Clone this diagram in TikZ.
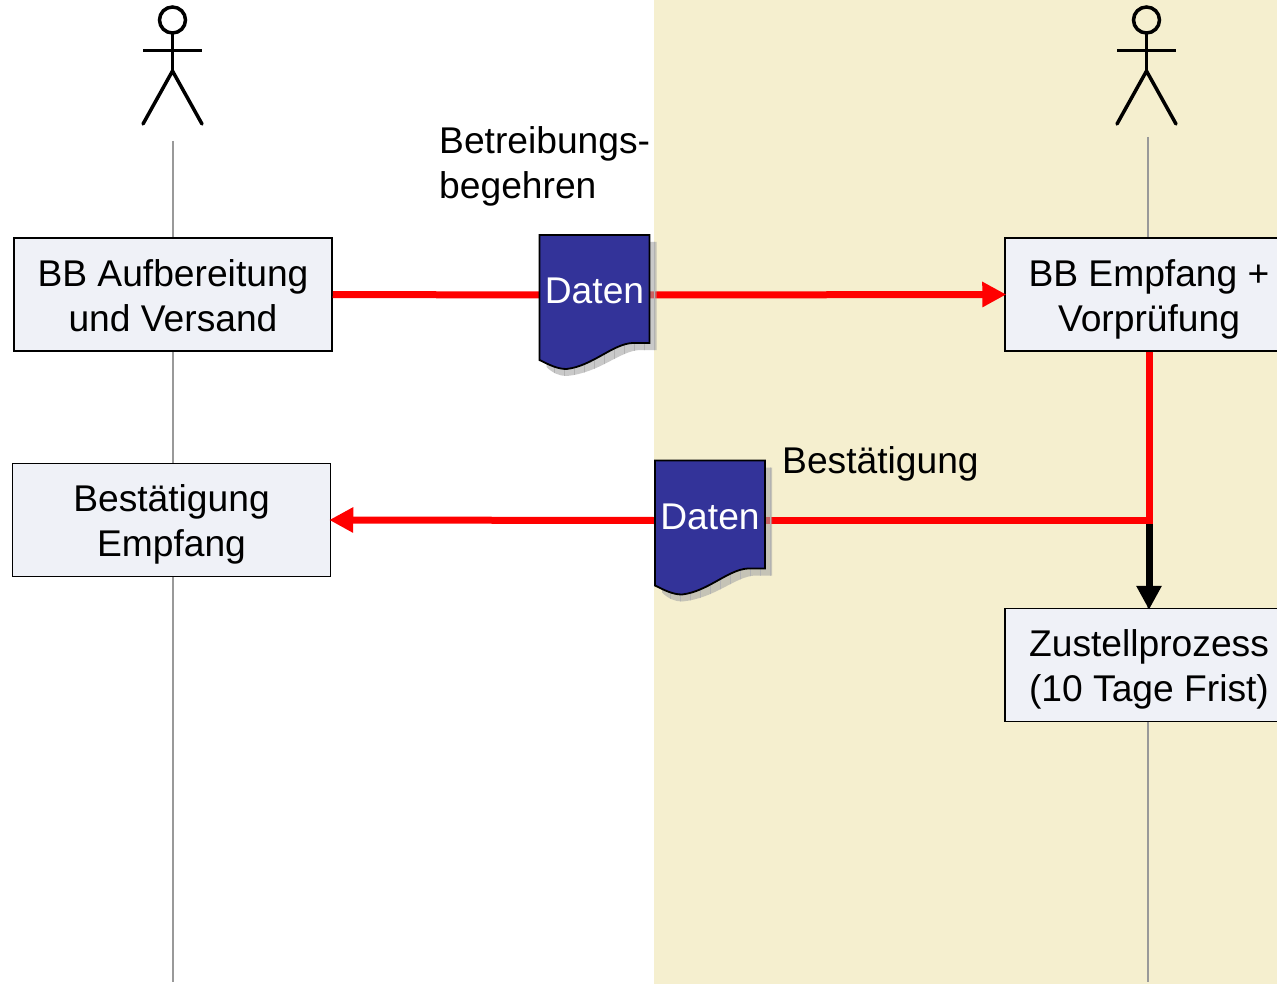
\documentclass[tikz,border=0pt]{standalone}
\usepackage{fontspec}
\setmainfont{Liberation Sans}
\usetikzlibrary{arrows.meta,calc}

\definecolor{zone}{HTML}{F5EFCF}
\definecolor{boxfill}{HTML}{EFF1F7}
\definecolor{docblue}{HTML}{333399}
\definecolor{flowred}{rgb}{1,0,0}

\pgfdeclarelayer{back}
\pgfdeclarelayer{front}
\pgfsetlayers{back,main,front}

\tikzset{
    labeltext/.style={font=\fontsize{37.2}{45}\selectfont},
    stepbox/.style={draw=black, line width=1.5pt, fill=boxfill, minimum height=113pt, align=center, inner sep=0pt, text height=73pt, text depth=0pt, labeltext},
    docnode/.style={minimum width=110pt, minimum height=120pt, inner sep=0pt, text=white, text depth=8pt, labeltext},
    lifeline/.style={draw=gray!80, line width=2pt},
    redflow/.style={flowred, line width=7pt},
    blackflow/.style={black, line width=7pt},
    head/.style={-{Triangle[length=24pt,width=24pt]}, shorten >=-2pt},
    actor/.pic={
        \draw[line width=3.5pt, line cap=round] (0,-13) circle (13);
        \draw[line width=3.5pt] (0,0) -- (0,38);
        \draw[line width=3.5pt] (-29.5,17.5) -- (29.5,17.5);
        \draw[line width=3.5pt, line cap=round] (-29.5,91) -- (0,38) -- (29.5,91);
    }
}

% paper with its drop shadow, name at the node
\newcommand{\datadoc}[3]{
    \begin{scope}[shift={(#2,#3)}]
        \fill[gray!70, opacity=0.6] (-48,-53) -- (62,-53) -- (62,55) -- (45,55)
            .. controls (25,56) and (5,78) .. (-28,81) .. controls (-35,81) and (-42,78) .. (-48,72) -- cycle;
        \begin{scope}
            \clip (-48,-53) -- (62,-53) -- (62,55) -- (45,55)
                .. controls (25,56) and (5,78) .. (-28,81) .. controls (-35,81) and (-42,78) .. (-48,72) -- cycle;
            \draw[gray!60, line width=0.8pt, step=10] (-50,-60) grid (70,90);
        \end{scope}
        \filldraw[draw=black, fill=docblue, line width=1.8pt] (-55,-60) -- (55,-60) -- (55,48) -- (38,48)
            .. controls (18,49) and (-2,71) .. (-28,74) .. controls (-37,74) and (-45,70) .. (-55,65) -- cycle;
    \end{scope}
    \node[docnode] (#1) at (#2,#3) {Daten};
}

\begin{document}
\begin{tikzpicture}[x=1pt, y=-1pt]
    \useasboundingbox (0,0) rectangle (1277,984);
    \clip (0,0) rectangle (1277,984);

    \begin{pgfonlayer}{back}
        \fill[white] (0,0) rectangle (654,984);
        \fill[zone] (654,0) rectangle (1277,984);
    \end{pgfonlayer}

    % lifelines
    \coordinate (leftTop) at (173,141);
    \coordinate (leftEnd) at (173,982);
    \coordinate (rightTop) at (1148,137);
    \coordinate (rightEnd) at (1148,982);
    \draw[lifeline] (leftTop) -- (leftEnd);
    \draw[lifeline] (rightTop) -- (rightEnd);

    \pic at (172.5,33) {actor};
    \pic at (1146.5,33) {actor};

    % process boxes
    \node[stepbox, minimum width=318pt] (aufbereitung) at (173,294.5) {BB Aufbereitung\\und Versand};
    \node[stepbox, minimum width=318pt] (empfang) at (171.5,520) {Bestätigung\\Empfang};
    \node[stepbox, minimum width=288pt] (pruefung) at (1149,294.5) {BB Empfang +\\Vorprüfung};
    \node[stepbox, minimum width=288pt] (zustellung) at (1149,665) {Zustellprozess\\(10 Tage Frist)};

    \begin{pgfonlayer}{front}
        \datadoc{docBegehren}{594.5}{295}
        \datadoc{docBestaetigung}{710}{520.5}
    \end{pgfonlayer}

    \node[labeltext, anchor=west, align=left, inner sep=0pt] (lblBegehren) at (439,166) {Betreibungs-\\begehren};
    \node[labeltext, anchor=west, inner sep=0pt] (lblBestaetigung) at (782,464) {Bestätigung};

    % flows
    \coordinate (split) at (zustellung.north |- docBestaetigung);
    \draw[redflow] (aufbereitung.east) -- (docBegehren.west);
    \draw[redflow, head] (docBegehren.east) -- (pruefung.west);
    \draw[blackflow, head] (split) -- (zustellung.north);
    \draw[redflow] (pruefung.south) -- (split) -- (docBestaetigung.east);
    \draw[redflow, head] (docBestaetigung.west) -- (empfang.east);
\end{tikzpicture}
\end{document}
